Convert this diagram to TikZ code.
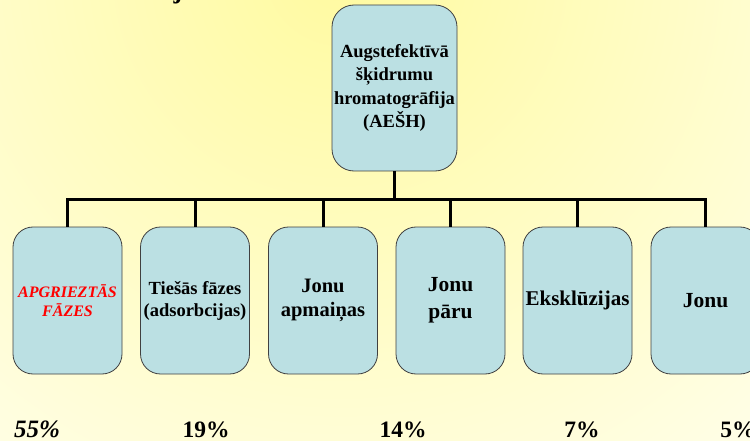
\documentclass[tikz,border=0pt]{standalone}
\usepackage{fontspec}
\setmainfont{Liberation Serif}
\definecolor{boxfill}{RGB}{187,224,227}
\definecolor{glow}{RGB}{255,250,160}
\definecolor{paper}{RGB}{255,255,246}
\newcommand{\fsz}[2]{\fontsize{#1}{#2}\selectfont}

\begin{document}
\begin{tikzpicture}[line cap=butt,line join=miter,x=1pt,y=-1pt,
  box/.style={draw=black!75,line width=0.8pt,fill=boxfill,rounded corners=20pt,
    minimum width=109pt,minimum height=147pt,inner sep=0pt,align=center,
    font=\bfseries\fsz{18.5}{22}},
  conn/.style={line width=3pt,color=black},
  pct/.style={anchor=base,font=\bfseries\fsz{23.5}{28}}]
\useasboundingbox (0,0) rectangle (750,441);
% Fons
\fill[paper] (0,0) rectangle (750,441);
\begin{scope}
  \clip (0,0) rectangle (750,441);
  \shade[inner color=glow,outer color=paper] (340,-30) circle (760pt);
\end{scope}
\node[anchor=base,font=\bfseries\fsz{26}{30}] (titlej) at (178,-1) {j};

% Bloki
\node[box,minimum width=125pt,minimum height=166pt,rounded corners=22pt,
  font=\bfseries\fsz{18.5}{23.5}] (root) at (394.5,88)
  {Augstefektīvā\\šķidrumu\\hromatogrāfija\\(AEŠH)};
\node[box,text=red,font=\bfseries\itshape\fsz{16}{19}] (apgr) at (67.5,300.5) {APGRIEZTĀS\\FĀZES};
\node[box] (ties) at (195,300.5) {Tiešās fāzes\\(adsorbcijas)};
\node[box,font=\bfseries\fsz{20.5}{23.5}] (apm) at (323,300.5) {Jonu\\apmaiņas};
\node[box,font=\bfseries\fsz{21.5}{27}] (paru) at (450.5,300.5) {Jonu\\pāru};
\node[box,font=\bfseries\fsz{21}{25}] (ekskl) at (577.5,300.5) {Eksklūzijas};
\node[box,font=\bfseries\fsz{21.5}{25}] (jonu) at (705.5,300.5) {Jonu};

% Savienojumi
\coordinate (bar) at (0,199);
\foreach \c in {apgr,ties,apm,paru,ekskl,jonu}
  \draw[conn] (root.south) -- (root.south |- bar) -| (\c.north);

% Procenti
\node[pct,font=\bfseries\itshape\fsz{25}{30}] (p55) at (37,437) {55\%};
\node[pct] (p19) at (206,437) {19\%};
\node[pct] (p14) at (403,437) {14\%};
\node[pct] (p7) at (582,437) {7\%};
\node[pct] (p5) at (738,437) {5\%};
\end{tikzpicture}
\end{document}
